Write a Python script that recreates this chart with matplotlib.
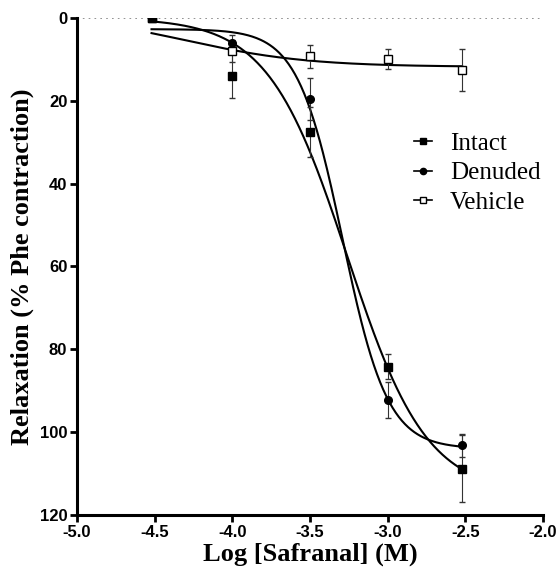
import numpy as np
import matplotlib.pyplot as plt
from matplotlib.lines import Line2D

# --- Data ---
log_conc = [-4.52, -4.0, -3.5, -3.0, -2.52]

intact_mean = [0.0, 14.0, 27.5, 84.2, 108.8]
intact_sem = [0.0, 5.4, 6.0, 3.0, 8.0]

denuded_mean = [0.0, 6.1, 19.6, 92.3, 103.2]
denuded_sem = [0.0, 2.0, 5.0, 4.3, 2.7]

vehicle_mean = [0.0, 8.0, 9.3, 9.9, 12.6]
vehicle_sem = [0.0, 2.7, 2.8, 2.5, 5.0]

# fitted sigmoid parameters (top, bottom, logEC50, hill)
intact_fit = (0.0, 115.0, -3.26, 1.7)
denuded_fit = (2.7, 104.0, -3.29, 3.0)
vehicle_fit = (-1.0, 11.8, -4.3, 1.1)


def sigmoid(x, top, bottom, logec50, hill):
    """4-parameter logistic curve"""
    return top + (bottom - top) / (1 + 10 ** ((logec50 - x) * hill))


plt.rcParams["font.family"] = ["Liberation Sans", "DejaVu Sans"]

fig = plt.figure(figsize=(5.59, 5.74), dpi=100)
ax = fig.add_axes([0.1377, 0.1028, 0.8336, 0.8659])

xs = np.linspace(log_conc[0], log_conc[-1], 300)

# drawn vehicle first so intact ends up on top at the first point
series = [
    ("Vehicle", vehicle_mean, vehicle_sem, vehicle_fit, "s", "white", 6),
    ("Denuded", denuded_mean, denuded_sem, denuded_fit, "o", "black", 5.5),
    ("Intact", intact_mean, intact_sem, intact_fit, "s", "black", 6),
]

handles = {}
for label, mean, sem, fit, marker, face, ms in series:
    ax.plot(xs, sigmoid(xs, *fit), color="black", lw=1.5, zorder=2)
    ax.errorbar(
        log_conc,
        mean,
        yerr=sem,
        fmt=marker,
        mfc=face,
        mec="black",
        mew=1.0,
        ms=ms,
        ecolor="#333333",
        elinewidth=0.8,
        capsize=2.5,
        capthick=0.8,
        zorder=3,
    )
    handles[label] = Line2D([], [], color="black", lw=1.2, marker=marker,
                            mfc=face, mec="black", mew=1.0, ms=ms - 1.0)

# dotted zero line
ax.axhline(0, color="gray", lw=1.2, ls=(0, (1, 2.5)), zorder=1)

ax.set_xlim(-5.0, -2.0)
ax.set_ylim(120, 0)
ax.set_xticks(np.arange(-5.0, -1.99, 0.5))
ax.set_xticklabels([f"{v:.1f}" for v in np.arange(-5.0, -1.99, 0.5)])
ax.set_yticks(np.arange(0, 121, 20))

for side in ["top", "right"]:
    ax.spines[side].set_visible(False)
for side in ["left", "bottom"]:
    ax.spines[side].set_linewidth(2.2)

ax.tick_params(axis="both", direction="out", length=5, width=2.0,
               labelsize=12, pad=2)
for lab in ax.get_xticklabels() + ax.get_yticklabels():
    lab.set_fontweight("bold")

ax.set_xlabel("Log [Safranal] (M)", fontsize=19, fontweight="bold",
              family="Liberation Serif", labelpad=2)
ax.set_ylabel("Relaxation (% Phe contraction)", fontsize=19,
              fontweight="bold", family="Liberation Serif", labelpad=4)

order = ["Intact", "Denuded", "Vehicle"]
ax.legend(
    [handles[k] for k in order],
    order,
    loc="upper left",
    bbox_to_anchor=(0.674, 0.815),
    frameon=False,
    handlelength=0.75,
    handletextpad=0.7,
    labelspacing=0.28,
    prop={"family": "Liberation Serif", "size": 18},
)

plt.savefig("out.png", dpi=100)
